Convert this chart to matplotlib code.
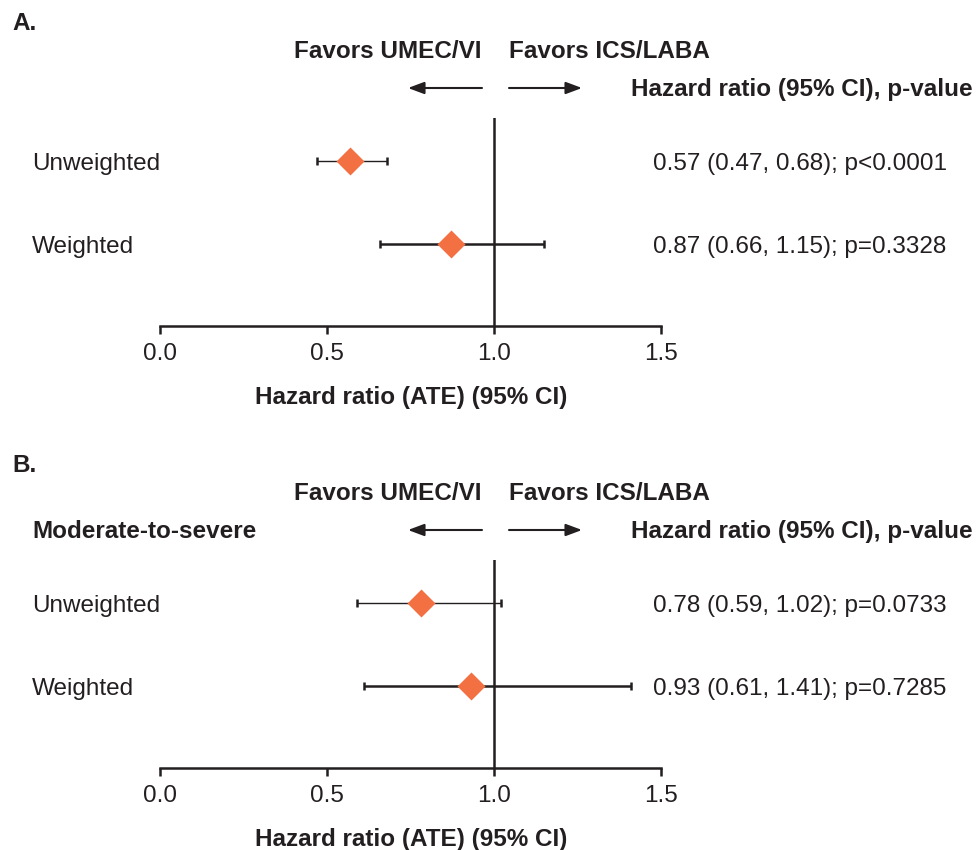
import matplotlib
matplotlib.use("Agg")
import matplotlib.pyplot as plt
from matplotlib import transforms
from matplotlib.patches import FancyArrowPatch

plt.rcParams['font.family'] = ['Liberation Sans', 'DejaVu Sans']

# data
rows = ["Unweighted", "Weighted"]
hr_a = [0.57, 0.87]
lo_a = [0.47, 0.66]
hi_a = [0.68, 1.15]
p_a = ["p<0.0001", "p=0.3328"]

hr_b = [0.78, 0.93]
lo_b = [0.59, 0.61]
hi_b = [1.02, 1.41]
p_b = ["p=0.0733", "p=0.7285"]

xticks = [0.0, 0.5, 1.0, 1.5]

W, H = 976, 850
TXT = '#231f20'
ORANGE = '#f37043'
FS = 17.5
VA = 'center_baseline'

fig = plt.figure(figsize=(W / 100, H / 100), dpi=100)


def fx(px):
    return px / W


def fy(py):
    return 1 - py / H


def panel(off, letter, hr, lo, hi, pv, subtitle=None):
    # x axis 0..1.5 between px 160 and 661, axis line at px 326 (+off)
    ax = fig.add_axes([fx(160), fy(326 + off), fx(661) - fx(160), 208 / H])
    ax.set_xlim(0, 1.5)
    ax.set_ylim(0, 2.5)
    for s in ['top', 'right', 'left']:
        ax.spines[s].set_visible(False)
    ax.spines['bottom'].set_linewidth(1.8)
    ax.spines['bottom'].set_color(TXT)
    ax.set_yticks([])
    ax.set_xticks(xticks)
    ax.set_xticklabels(["%.1f" % t for t in xticks], fontsize=FS, color=TXT)
    ax.tick_params(axis='x', length=6, width=1.8, color=TXT, pad=6)
    ax.axvline(1.0, color=TXT, lw=1.8, zorder=1)
    ax.set_xlabel("Hazard ratio (ATE) (95% CI)", fontsize=FS, fontweight='bold',
                  color=TXT)
    ax.xaxis.label.set_va(VA)
    ax.xaxis.set_label_coords((411 - 160) / 501, -(395 - 326) / 208)

    mixed = transforms.blended_transform_factory(fig.transFigure, ax.transData)
    ys = [1.98, 0.98]
    widths = [1.0, 1.8]
    for i in range(len(rows)):
        ax.errorbar(hr[i], ys[i], xerr=[[hr[i] - lo[i]], [hi[i] - hr[i]]],
                    fmt='none', ecolor=TXT, elinewidth=widths[i], capsize=3.2,
                    capthick=1.8, zorder=2, clip_on=False)
        ax.plot(hr[i], ys[i], marker='D', ms=14, color=ORANGE, mec='none',
                zorder=3, clip_on=False)
        ax.annotate(rows[i], xy=(fx(32), ys[i]), xycoords=mixed,
                    fontsize=FS, color=TXT, va=VA, ha='left',
                    annotation_clip=False)
        ax.annotate("%.2f (%.2f, %.2f); %s" % (hr[i], lo[i], hi[i], pv[i]),
                    xy=(fx(653), ys[i]), xycoords=mixed,
                    fontsize=FS, color=TXT, va=VA, ha='left',
                    annotation_clip=False)

    fig.text(fx(12), fy(21 + off), letter, fontsize=FS, fontweight='bold',
             color=TXT, va=VA, ha='left')
    fig.text(fx(482), fy(49 + off), "Favors UMEC/VI", fontsize=FS,
             fontweight='bold', color=TXT, va=VA, ha='right')
    fig.text(fx(509), fy(49 + off), "Favors ICS/LABA", fontsize=FS,
             fontweight='bold', color=TXT, va=VA, ha='left')
    fig.text(fx(973), fy(87 + off), "Hazard ratio (95% CI), p-value",
             fontsize=FS, fontweight='bold', color=TXT, va=VA, ha='right')
    if subtitle:
        fig.text(fx(32), fy(87 + off), subtitle, fontsize=FS,
                 fontweight='bold', color=TXT, va=VA, ha='left')
    arr = dict(arrowstyle='-|>,head_length=0.75,head_width=0.28', color=TXT,
               lw=1.5, shrinkA=0, shrinkB=0, mutation_scale=13)
    fig.add_artist(FancyArrowPatch((fx(482), fy(88 + off)), (fx(408), fy(88 + off)),
                                   transform=fig.transFigure, **arr))
    fig.add_artist(FancyArrowPatch((fx(509), fy(88 + off)), (fx(582), fy(88 + off)),
                                   transform=fig.transFigure, **arr))
    return ax


panel(0, "A.", hr_a, lo_a, hi_a, p_a)
panel(442, "B.", hr_b, lo_b, hi_b, p_b, subtitle="Moderate-to-severe")

fig.savefig("out.png", dpi=100)
